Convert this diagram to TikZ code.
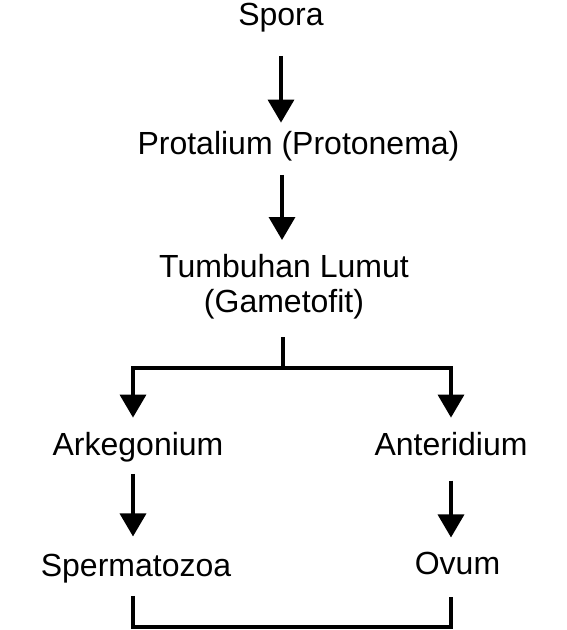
\documentclass[tikz,border=0pt]{standalone}
\usepackage{fontspec}
\setmainfont{Liberation Sans}
\usetikzlibrary{arrows.meta}
\tikzset{lbl/.style={inner sep=0pt,font=\fontsize{32}{35}\selectfont,align=center},
	 link/.style={line width=3.5pt},
	 arr/.style={link,-{Triangle[length=23pt,width=26pt]}}
	 }

\begin{document}
\begin{tikzpicture}[x=1pt,y=-1pt] % daur hidup lumut
	\useasboundingbox (0,0) rectangle (567,630);
	\node[lbl,anchor=base] (spora) at (281,25) {Spora};
	\node[lbl,anchor=base] (prot) at (298.5,154) {Protalium (Protonema)};
	\node[lbl,anchor=north] (lumut) at (284,254) {Tumbuhan Lumut\\(Gametofit)};
	\node[lbl,anchor=base] (arkeg) at (138,455) {Arkegonium};
	\node[lbl,anchor=base] (anter) at (451,455) {Anteridium};
	\node[lbl,anchor=base] (sperm) at (136,576) {Spermatozoa};
	\node[lbl,anchor=base] (ovum) at (457.5,574) {Ovum};
	\coordinate (fork) at (283,368);
	\coordinate (forkL) at (133,368);
	\coordinate (forkR) at (451,368);
	\coordinate (bot) at (0,627);
	\draw[arr,shorten <=24pt,shorten >=8pt] (spora.south) -- (spora.south |- prot.north);
	\draw[arr,shorten <=14pt,shorten >=14pt] ([xshift=1pt]spora.south |- prot.south) -- ([xshift=1pt]spora.south |- lumut.north);
	\draw[link,shorten <=18pt] (lumut.south -| fork) -- (fork);
	\draw[arr,shorten >=14pt] (fork) -| (forkL |- arkeg.north);
	\draw[arr,shorten >=14pt] (fork) -| (forkR |- anter.north);
	\draw[arr,shorten <=12pt,shorten >=17pt] (forkL |- arkeg.south) -- (forkL |- sperm.north);
	\draw[arr,shorten <=25pt,shorten >=14pt] (forkR |- anter.south) -- (forkR |- ovum.north);
	\draw[link,shorten <=13pt,shorten >=22pt] (forkL |- sperm.south) |- (bot -| forkR) -- (forkR |- ovum.south);
\end{tikzpicture}
\end{document}
